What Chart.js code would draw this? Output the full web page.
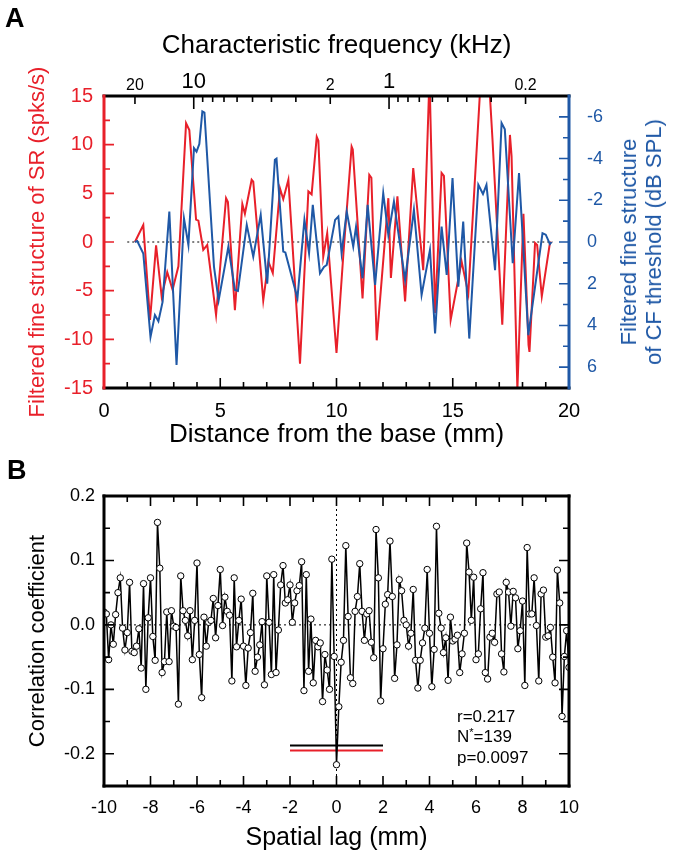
<!DOCTYPE html>
<html lang="en">
<head>
<meta charset="UTF-8">
<title>Fine structure of SR and CF threshold</title>
<script src="https://cdn.jsdelivr.net/npm/chart.js"></script>
<style>
  body { margin: 0; background: #fff; font-family: "Liberation Sans", Arial, sans-serif; }
  .wrap { position: relative; width: 675px; height: 853px; overflow: hidden; }
  canvas { position: absolute; left: 0; }
  #chartA { top: 0; }
  #chartB { top: 450px; }
  .panel { position: absolute; font-weight: bold; font-size: 27px; color: #000; }
  #rightTitle {
    position: absolute; left: 641px; top: 242px;
    transform: translate(-50%, -50%) rotate(-90deg);
    white-space: nowrap; text-align: center;
    font-size: 22px; line-height: 25px; color: #1f58a6;
  }
  #stats { position: absolute; left: 457px; top: 707px; font-size: 17px; line-height: 20px; color: #000; }
  #stats span { position: relative; top: -6px; font-size: 11px; }
</style>
</head>
<body>
<div class="wrap">
  <canvas id="chartA" width="675" height="450"></canvas>
  <canvas id="chartB" width="675" height="403"></canvas>
  <div class="panel" style="left:5px; top:3px;">A</div>
  <div class="panel" style="left:7px; top:455px;">B</div>
  <div id="rightTitle">Filtered fine structure<br>of CF threshold (dB SPL)</div>
  <div id="stats">r=0.217<br>N<span>*</span>=139<br>p=0.0097</div>
</div>

<script>
  const RED = '#e8202a';
  const BLUE = '#1f58a6';

  // ---- panel A: filtered fine structure vs distance from base (mm) ----
  const redX = [1.33, 1.69, 1.98, 2.24, 2.48, 2.72, 2.95, 3.2, 3.53, 3.67, 3.96, 4.06, 4.27, 4.44, 4.82,
    5.25, 5.33, 5.63, 5.95, 6.06, 6.35, 6.42, 6.85, 7.07, 7.26, 7.57, 7.71, 7.93, 8.43, 8.79, 8.93,
    9.15, 9.22, 9.43, 9.6, 10.0, 10.3, 10.65, 10.7, 11.12, 11.41, 11.5, 11.73, 12.23, 12.34, 12.62,
    12.95, 13.3, 13.73, 14.0, 14.24, 14.52, 14.62, 14.91, 15.38, 15.67, 16.38, 16.71, 17.13, 17.46,
    17.53, 17.78, 18.04, 18.26, 18.3, 18.54, 18.63, 18.83, 19.18, 19.25];
  const redY = [0, 1.75, -8.0, -0.35, -5.6, -3.1, -4.9, -2.5, 12.2, 11.5, 2.3, 2.2, -0.8, -0.3, -7.5,
    4.5, 4.1, -7.0, 3.9, 2.9, 6.4, 6.2, -6.0, -2.0, -3.2, 5.5, 4.4, 6.4, -12.5, 5.2, 4.9,
    10.8, 10.4, -1.5, 0.9, -11.4, -1.1, 9.8, 9.5, -5.8, 6.9, 6.6, -10.1, 4.5, -3.7, 4.7,
    -6.1, 7.6, -2.9, 17, -7.3, 7.1, 6.8, -8.0, -2.0, -5.3, 24, 10.5, -8.5, 11.0,
    8.8, -15.2, 2.9, -10.6, -11.3, -0.1, -0.3, -5.6, -0.1, 0];

  const blueX = [1.33, 1.43, 1.69, 2.0, 2.19, 2.34, 2.52, 2.81, 3.12, 3.44, 3.63, 3.87, 3.98, 4.1, 4.23,
    4.32, 4.73, 4.93, 5.35, 5.63, 5.76, 6.14, 6.42, 6.74, 7.02, 7.35, 7.42, 7.71, 7.8, 8.32, 8.62,
    8.82, 8.98, 9.29, 9.46, 9.58, 9.94, 10.08, 10.22, 10.44, 10.72, 10.84, 11.12, 11.34, 11.66,
    12.01, 12.23, 12.47, 12.95, 13.33, 13.66, 14.02, 14.24, 14.52, 14.74, 14.99, 15.24, 15.45,
    15.71, 16.1, 16.3, 16.45, 16.82, 17.1, 17.24, 17.58, 17.85, 18.25, 18.86, 19.0, 19.18, 19.25];
  const blueY = [0, -0.05, 0.55, 4.55, 3.5, 3.8, 2.87, -1.46, 5.9, -1.13, 0.14, -4.5, -4.33, -4.7, -6.26,
    -6.2, 1.18, 2.8, 0.22, 2.3, 2.35, -0.82, 0.7, -1.3, 2.0, -3.94, -4.0, 0.46, 0.5, 2.7, -1.06,
    0.54, -1.78, 1.5, 1.2, 1.1, -1.06, -1.22, 0.54, -1.46, 0.22, -0.73, 1.74, -1.78, 2.06,
    -2.34, -0.34, -1.94, 1.82, -1.54, 2.54, 0.38, 4.39, -0.74, 1.58, -3.06, 2.14, -0.98,
    4.63, -2.74, -2.3, -2.74, 1.35, -5.7, -5.4, 1.02, -3.3, 4.47, -0.42, -0.35, 0.1, 0];

  const distTicks = [0, 5, 10, 15, 20];
  const srTicks = [-15, -10, -5, 0, 5, 10, 15];
  const thrTicks = [-6, -4, -2, 0, 2, 4, 6];
  const cfLabels = [20, 10, 2, 1, 0.2];
  const cfMinor = [9, 8, 7, 6, 5, 4, 3, 0.9, 0.8, 0.7, 0.6, 0.5, 0.4, 0.3];
  const zeroSpan = [1.0, 19.3];

  // place map: mm from base for a CF in kHz
  const cfToMm = f => 12.26 - 8.4 * Math.log10(f);

  // ---- panel B: correlation vs spatial lag ----
  // lag -10.0 ... -0.1 (step 0.1)
  const corrLeft = [
    0.02, 0.017, -0.054, 0, -0.03, 0.016, 0.05, 0.073, -0.005, -0.039,
    -0.012, 0.066, -0.041, -0.043, -0.033, -0.006, -0.067, 0.064, -0.1, 0.011,
    0.073, -0.018, -0.055, 0.159, 0.088, -0.074, -0.057, 0.02, -0.057, 0.022,
    -0.002, -0.004, -0.123, 0.076, 0.022, 0.007, -0.017, 0.022, -0.054, 0.007,
    0.096, -0.046, -0.113, 0.012, -0.033, 0.004, 0.007, 0.041, -0.02, 0.03,
    0.086, -0.001, 0.043, 0.021, 0.015, -0.087, 0.073, -0.034, 0.007, 0.04,
    -0.033, -0.094, -0.036, -0.012, 0.049, -0.072, -0.05, -0.031, 0.005, -0.093,
    0.076, 0.004, -0.077, 0.078, -0.074, -0.008, 0.062, 0.092, 0.034, 0.039,
    0.062, 0.004, 0.034, 0.053, 0.061, 0.098, -0.102, 0.078, -0.072, 0.009,
    -0.09, -0.024, -0.034, -0.028, -0.119, -0.046, -0.07, -0.1, 0.102, -0.049];
  const corrZero = -0.217;
  // lag 0.1 ... 10.0
  const corrRight = [
    -0.127, -0.058, -0.024, 0.123, 0.013, -0.082, -0.091, 0.021, 0.044, 0.095,
    0.021, -0.024, 0.017, 0.022, -0.027, -0.051, 0.148, 0.073, -0.118, -0.037,
    0.032, 0.047, 0.13, 0.044, -0.083, -0.031, 0.07, 0.053, 0.007, 0,
    -0.033, -0.013, 0.055, -0.055, -0.098, -0.055, -0.028, -0.005, 0.086, -0.013,
    -0.096, -0.038, 0.153, 0.018, -0.005, -0.043, -0.02, -0.086, 0.012, -0.025,
    -0.022, -0.016, -0.074, -0.045, -0.013, 0.127, 0.082, 0.007, 0.074, -0.054,
    -0.045, 0.025, 0.081, -0.074, -0.084, -0.019, -0.013, -0.027, 0.048, 0.051,
    -0.045, -0.073, 0.066, 0.051, -0.002, 0.052, 0.042, -0.037, -0.009, 0.037,
    -0.094, 0.12, 0.017, 0.017, 0.073, -0.001, -0.087, 0.048, 0.054, -0.019,
    -0.017, -0.004, -0.05, -0.09, 0.085, 0.034, -0.142, -0.049, -0.009, -0.066];
  const corrValues = corrLeft.concat([corrZero], corrRight);
  const lagStep = 0.1;
  const lagTicks = [-10, -8, -6, -4, -2, 0, 2, 4, 6, 8, 10];
  const corrTicks = [-0.2, -0.1, 0, 0.1, 0.2];
  const critBlack = -0.187;
  const critRed = -0.195;
  const critSpan = [-2, 2];

  Chart.defaults.font.family = '"Liberation Sans", Arial, sans-serif';

  const range = (a, b, s) => { const out = []; for (let v = a; v <= b + 1e-9; v += s) out.push(+v.toFixed(4)); return out; };
  const notIn = (arr, skip) => arr.filter(v => !skip.some(k => Math.abs(k - v) < 1e-6));

  // inward tick marks + frame, per canvas
  const frameSpecs = {
    chartA: {
      frame: { top: '#000', bottom: '#000', left: RED, right: BLUE },
      ticks: [
        { axis: 'y', side: 'left', values: srTicks, len: 10, color: RED },
        { axis: 'y', side: 'left', values: [-12.5, -7.5, -2.5, 2.5, 7.5, 12.5], len: 6, color: RED },
        { axis: 'y2', side: 'right', values: thrTicks, len: 10, color: BLUE },
        { axis: 'y2', side: 'right', values: [-5, -3, -1, 1, 3, 5], len: 6, color: BLUE },
        { axis: 'x', side: 'bottom', values: distTicks, len: 10 },
        { axis: 'x', side: 'bottom', values: notIn(range(1, 19, 1), distTicks), len: 6 },
        { axis: 'xTop', side: 'top', values: [10, 1].map(cfToMm), len: 13 },
        { axis: 'xTop', side: 'top', values: [20, 2, 0.2].map(cfToMm), len: 8 },
        { axis: 'xTop', side: 'top', values: cfMinor.map(cfToMm), len: 6 }
      ]
    },
    chartB: {
      frame: { top: '#000', bottom: '#000', left: '#000', right: '#000' },
      ticks: [
        { axis: 'y', side: 'left', values: corrTicks, len: 10 },
        { axis: 'y', side: 'left', values: [-0.15, -0.05, 0.05, 0.15], len: 6 },
        { axis: 'y', side: 'right', values: corrTicks, len: 10 },
        { axis: 'y', side: 'right', values: [-0.15, -0.05, 0.05, 0.15], len: 6 },
        { axis: 'x', side: 'bottom', values: lagTicks, len: 10 },
        { axis: 'x', side: 'bottom', values: notIn(range(-9, 9, 1), lagTicks), len: 6 },
        { axis: 'x', side: 'top', values: lagTicks, len: 10 },
        { axis: 'x', side: 'top', values: notIn(range(-9, 9, 1), lagTicks), len: 6 }
      ]
    }
  };

  const frameTicks = {
    id: 'frameTicks',
    afterDatasetsDraw(chart) {
      const spec = frameSpecs[chart.canvas.id];
      const { ctx, chartArea: a } = chart;
      ctx.save();
      ctx.lineCap = 'butt';
      for (const t of spec.ticks) {
        const s = chart.scales[t.axis];
        ctx.strokeStyle = t.color || '#000';
        ctx.lineWidth = 1.6;
        ctx.beginPath();
        for (const v of t.values) {
          const p = s.getPixelForValue(v);
          if (t.side === 'left') { ctx.moveTo(a.left, p); ctx.lineTo(a.left + t.len, p); }
          else if (t.side === 'right') { ctx.moveTo(a.right, p); ctx.lineTo(a.right - t.len, p); }
          else if (t.side === 'top') { ctx.moveTo(p, a.top); ctx.lineTo(p, a.top + t.len); }
          else { ctx.moveTo(p, a.bottom); ctx.lineTo(p, a.bottom - t.len); }
        }
        ctx.stroke();
      }
      ctx.lineWidth = 3;
      ctx.lineCap = 'square';
      const seg = (c, x1, y1, x2, y2) => {
        ctx.strokeStyle = c; ctx.beginPath(); ctx.moveTo(x1, y1); ctx.lineTo(x2, y2); ctx.stroke();
      };
      seg(spec.frame.top, a.left, a.top, a.right, a.top);
      seg(spec.frame.bottom, a.left, a.bottom, a.right, a.bottom);
      seg(spec.frame.left, a.left, a.top, a.left, a.bottom);
      seg(spec.frame.right, a.right, a.top, a.right, a.bottom);
      ctx.restore();
    }
  };

  const setTicks = vals => s => { s.ticks = vals.map(v => ({ value: v })); };
  const noGrid = { display: false, drawTicks: false };
  const noBorder = { display: false };

  // ---- chart A ----
  new Chart(document.getElementById('chartA'), {
    type: 'line',
    data: {
      datasets: [
        { label: 'CF threshold', data: blueX.map((x, i) => ({ x, y: blueY[i] })), yAxisID: 'y2',
          borderColor: BLUE, borderWidth: 2, pointRadius: 0, tension: 0 },
        { label: 'SR', data: redX.map((x, i) => ({ x, y: redY[i] })), yAxisID: 'y',
          borderColor: RED, borderWidth: 2, pointRadius: 0, tension: 0 },
        { label: 'zero', data: [{ x: zeroSpan[0], y: 0 }, { x: zeroSpan[1], y: 0 }], yAxisID: 'y',
          borderColor: '#000', borderWidth: 1, borderDash: [2, 3], pointRadius: 0 }
      ]
    },
    options: {
      responsive: false,
      animation: false,
      devicePixelRatio: 1,
      layout: { padding: 0 },
      plugins: { legend: { display: false }, tooltip: { enabled: false } },
      scales: {
        x: {
          type: 'linear', position: 'bottom', min: 0, max: 20,
          afterBuildTicks: setTicks(distTicks),
          afterFit: s => { s.height = 62; },
          grid: noGrid, border: noBorder,
          ticks: { color: '#000', font: { size: 20 }, padding: 11, maxRotation: 0, autoSkip: false },
          title: { display: true, text: 'Distance from the base (mm)', color: '#000', font: { size: 26 }, padding: 0 }
        },
        xTop: {
          type: 'linear', position: 'top', min: 0, max: 20,
          afterBuildTicks: s => { s.ticks = cfLabels.map(f => ({ value: cfToMm(f) })); },
          afterFit: s => { s.height = 96; },
          grid: noGrid, border: noBorder,
          ticks: {
            color: '#000', padding: 1, maxRotation: 0, autoSkip: false,
            callback: (v, i) => String(cfLabels[i]),
            font: c => ({ size: (cfLabels[c.index] === 10 || cfLabels[c.index] === 1) ? 22 : 16 })
          },
          title: { display: true, text: 'Characteristic frequency (kHz)', color: '#000', font: { size: 26 }, padding: { top: 30 } }
        },
        y: {
          type: 'linear', position: 'left', min: -15, max: 15,
          afterBuildTicks: setTicks(srTicks),
          afterFit: s => { s.width = 104; },
          grid: noGrid, border: noBorder,
          ticks: { color: RED, font: { size: 20 }, padding: 11 },
          title: { display: true, text: 'Filtered fine structure of SR (spks/s)', color: RED, font: { size: 22 }, padding: { top: 25 } }
        },
        y2: {
          type: 'linear', position: 'right', min: -7, max: 7, reverse: true,
          afterBuildTicks: setTicks(thrTicks),
          afterFit: s => { s.width = 106; },
          grid: noGrid, border: noBorder,
          ticks: { color: BLUE, font: { size: 18 }, padding: 18 }
        }
      }
    },
    plugins: [frameTicks]
  });

  // ---- chart B ----
  new Chart(document.getElementById('chartB'), {
    type: 'line',
    data: {
      datasets: [
        { label: 'correlation', data: corrValues.map((y, i) => ({ x: -10 + i * lagStep, y })),
          borderColor: '#000', borderWidth: 1.5, tension: 0,
          pointRadius: 3.2, pointBackgroundColor: '#fff', pointBorderColor: '#000', pointBorderWidth: 1 },
        { label: 'crit black', data: [{ x: critSpan[0], y: critBlack }, { x: critSpan[1], y: critBlack }],
          borderColor: '#000', borderWidth: 2, pointRadius: 0 },
        { label: 'crit red', data: [{ x: critSpan[0], y: critRed }, { x: critSpan[1], y: critRed }],
          borderColor: RED, borderWidth: 2, pointRadius: 0 },
        { label: 'zero h', data: [{ x: -10, y: 0 }, { x: 10, y: 0 }],
          borderColor: '#000', borderWidth: 1, borderDash: [2, 3], pointRadius: 0 },
        { label: 'zero v', data: [{ x: 0, y: -0.25 }, { x: 0, y: 0.2 }],
          borderColor: '#000', borderWidth: 1, borderDash: [2, 3], pointRadius: 0 }
      ]
    },
    options: {
      responsive: false,
      animation: false,
      devicePixelRatio: 1,
      layout: { padding: { top: 46, right: 106 } },
      plugins: { legend: { display: false }, tooltip: { enabled: false } },
      scales: {
        x: {
          type: 'linear', position: 'bottom', min: -10, max: 10,
          afterBuildTicks: setTicks(lagTicks),
          afterFit: s => { s.height = 67; },
          grid: noGrid, border: noBorder,
          ticks: { color: '#000', font: { size: 18 }, padding: 11, maxRotation: 0, autoSkip: false },
          title: { display: true, text: 'Spatial lag (mm)', color: '#000', font: { size: 25 }, padding: 0 }
        },
        y: {
          type: 'linear', position: 'left', min: -0.25, max: 0.2,
          afterBuildTicks: setTicks(corrTicks),
          afterFit: s => { s.width = 104; },
          grid: noGrid, border: noBorder,
          ticks: { color: '#000', font: { size: 18 }, padding: 9, callback: v => v.toFixed(1) },
          title: { display: true, text: 'Correlation coefficient', color: '#000', font: { size: 22 }, padding: { top: 25 } }
        }
      }
    },
    plugins: [frameTicks]
  });
</script>
</body>
</html>
